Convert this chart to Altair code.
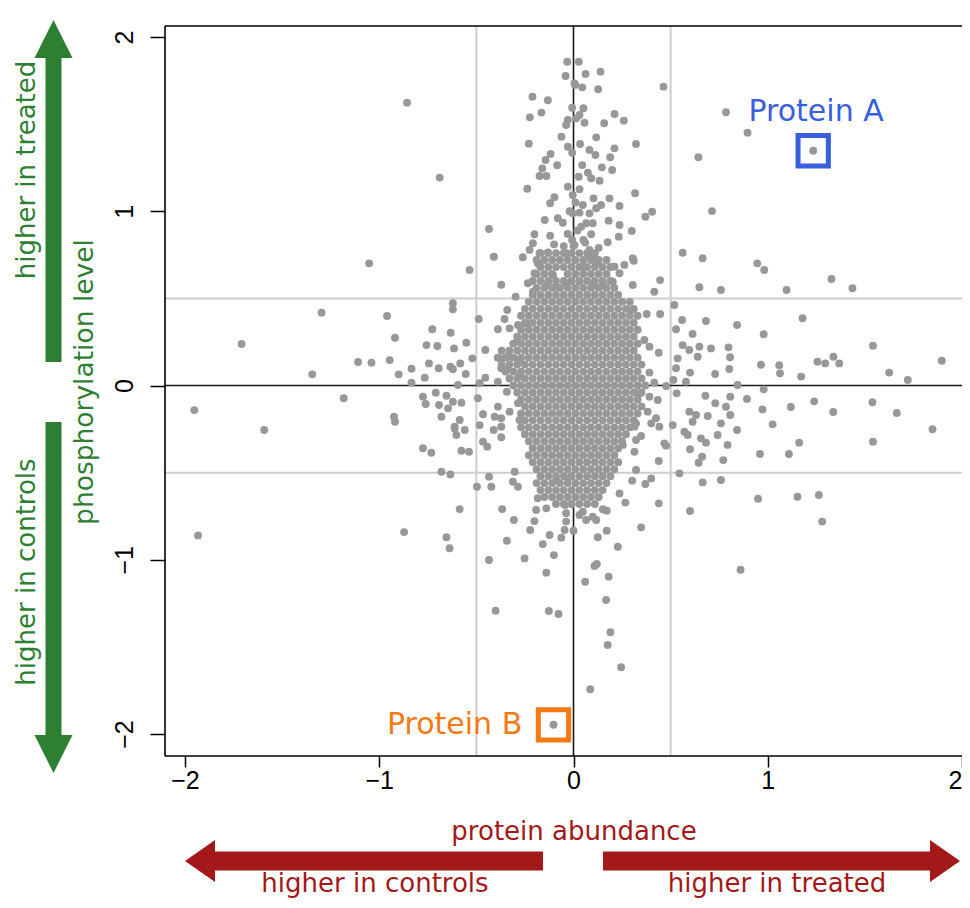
import altair as alt
import pandas as pd

# ---- scattered (individually readable) points: protein abundance (x), phosphorylation level (y)
pts_x = [
    -0.857, -0.689, -0.032, -0.041, 0.009, -0.211, -0.132, -0.165, -0.225, -0.007,
    -0.029, -0.038, 0.014, -0.062, -0.230, -0.029, -0.007, -0.118, -0.144, -0.084,
    -0.161, -0.175, -0.140, -0.238, -0.029, -0.004, -0.098, -0.120, -0.148, -0.081,
    -0.055, -0.004, -0.435, -0.201, -0.209, -0.226, -0.175, -0.132, -0.038, -0.007,
    -0.410, -0.261,
    0.027, 0.062, 0.139, 0.005, 0.045, 0.127, 0.463, 0.051, 0.031, 0.211,
    0.259, 0.158, 0.057, 0.785, 0.896, 0.117, 0.034, 0.322, 0.211, 0.082,
    0.113, 0.189, 0.643, 0.045, 0.146, 0.199, 0.074, 0.027, 0.091, 0.134,
    0.031, 0.317, 0.103, 0.185, 0.142, 0.237, 0.048, 0.117, 0.031, 0.082,
    0.405, 0.370, 0.713, 0.181, 0.237, 0.065, 0.099, 0.040, 0.300, 0.091,
    0.233, 0.176, 0.051, 0.005, 0.082, 0.108, 0.562, 0.665, 0.305,
    -0.535, -0.372, -0.235, -0.201, -0.184, -0.132, -0.089, -0.038, -0.106, -0.209,
    -0.298, -0.621, -0.621, -0.341, -0.355, -0.488, -0.727, -0.632, -0.389, -0.329,
    -0.286, -0.243, -0.289, -0.757, -0.701, -0.615, -0.552, -0.454, -0.521, -0.744,
    -0.694, -0.634, -0.583, -0.621, -0.555, -0.766, -0.595, -0.454, -0.483, -0.380,
    -0.338, -0.372, -0.343, -0.389, -0.343, -0.278, -0.278, -0.775, -0.709, -0.654,
    -0.761, -0.692, -0.621, -0.577, -0.646, -0.492, -0.680, -0.586, -0.466, -0.389,
    -0.329, -0.406, -0.372, -0.278, -0.286, -0.612, -0.483,
    0.648, 0.759, 0.446, 0.416, 0.310, 0.262, 0.211, 0.125, 0.051, 0.082,
    0.237, 0.305, 0.202, 0.151, 0.099, 0.031, 0.519, 0.377, 0.446, 0.297,
    0.559, 0.682, 0.528, 0.613, 0.365, 0.391, 0.439, 0.562, 0.596, 0.648,
    0.708, 0.798, 0.639, 0.536, 0.528, 0.600, 0.729, 0.391, 0.416, 0.477,
    0.514, 0.579, 0.531, 0.679, 0.730, 0.785, 0.596, 0.631, 0.691, 0.759,
    0.391, 0.434, 0.382, 0.425, 0.400, 0.511, 0.339, 0.322, 0.442,
    -0.775, -0.732, -0.612, -0.603, -0.560, -0.577, -0.538, -0.466, -0.444, -0.411,
    -0.372, -0.372, -0.680, -0.634, -0.435, -0.497, -0.423, -0.303, -0.312, -0.286,
    -0.586, -0.367, -0.307, -0.201, -0.223, -0.654, -0.638, -0.343, -0.158, -0.123,
    -0.063, -0.046, 0.000, -0.435, -0.252, -0.101, -0.140, -0.038, -0.038, -0.043,
    -0.192, -0.140, -0.089, -0.029, -0.184,
    0.314, 0.571, 0.588, 0.613, 0.656, 0.682, 0.742, 0.793, 0.468, 0.477,
    0.600, 0.662, 0.644, 0.771, 0.439, 0.322, 0.348, 0.314, 0.254, 0.545,
    0.665, 0.759, 0.400, 0.370, 0.302, 0.322, 0.237, 0.267, 0.439, 0.600,
    0.348, 0.171, 0.151, 0.117, 0.065, 0.031, 0.099, 0.048, 0.171, 0.125,
    0.228, 0.108, 0.120, 0.181, 0.060, 0.168,
    -0.401, -0.127, -0.077, 0.190, 0.176, 0.245, 0.086,
    -1.052, -1.297, -0.960, -1.709, -0.919, -1.109, -1.040, -0.946, -0.834, -0.900,
    -0.834, -1.345, -1.183, -1.952, -1.592, -0.924, -0.919, -1.933, -0.872,
    0.946, 0.982, 1.328, 1.436, 1.097, 0.842, 1.179, 0.979, 0.806, 1.542,
    1.896, 0.965, 1.059, 1.063, 1.256, 1.296, 1.338, 1.368, 1.625, 1.721,
    0.802, 1.172, 0.845, 0.979, 0.807, 0.893, 1.239, 1.539, 0.973, 1.119,
    1.337, 1.664, 0.807, 0.842, 1.025, 1.848, 1.162, 1.542, 0.960, 1.109,
    0.950, 1.153, 1.263, 1.280, 0.860,
    0.000, -0.030, 0.020, -0.020, 0.010, -0.050, 0.060, -0.100, 0.130, -0.120,
]
pts_y = [
    1.623, 1.193, 1.858, 1.776, 1.725, 1.657, 1.637, 1.566, 1.539, 1.594,
    1.524, 1.495, 1.533, 1.428, 1.388, 1.370, 1.336, 1.329, 1.294, 1.264,
    1.246, 1.202, 1.202, 1.129, 1.141, 1.093, 1.080, 1.046, 0.950, 0.960,
    0.934, 0.988, 0.898, 0.868, 0.816, 0.778, 0.759, 0.764, 0.759, 0.835,
    0.739, 0.736,
    1.858, 1.788, 1.801, 1.734, 1.711, 1.700, 1.715, 1.591, 1.552, 1.558,
    1.520, 1.505, 1.508, 1.568, 1.451, 1.424, 1.386, 1.386, 1.361, 1.352,
    1.323, 1.310, 1.310, 1.265, 1.252, 1.237, 1.221, 1.198, 1.189, 1.175,
    1.126, 1.103, 1.074, 1.074, 1.036, 1.030, 1.036, 1.017, 0.992, 0.988,
    0.997, 0.969, 1.001, 0.946, 0.921, 0.931, 0.931, 0.911, 0.887, 0.868,
    0.854, 0.822, 0.835, 0.806, 0.778, 0.739, 0.762, 0.730, 0.730,
    0.663, 0.578, 0.587, 0.644, 0.701, 0.587, 0.567, 0.587, 0.634, 0.538,
    0.510, 0.472, 0.437, 0.433, 0.382, 0.382, 0.323, 0.303, 0.323, 0.328,
    0.347, 0.357, 0.255, 0.232, 0.227, 0.213, 0.246, 0.204, 0.156, 0.127,
    0.099, 0.108, 0.127, 0.093, 0.066, 0.045, 0.003, 0.045, 0.013, 0.156,
    0.165, 0.099, 0.093, 0.022, -0.036, 0.146, 0.051, -0.064, -0.041, -0.059,
    -0.106, -0.112, -0.093, -0.099, -0.131, -0.073, -0.179, -0.198, -0.165, -0.122,
    -0.150, -0.179, -0.188, -0.198, -0.102, -0.236, -0.227,
    0.564, 0.548, 0.605, 0.538, 0.716, 0.692, 0.682, 0.710, 0.682, 0.749,
    0.644, 0.577, 0.596, 0.577, 0.577, 0.596, 0.462, 0.410, 0.410, 0.433,
    0.376, 0.370, 0.323, 0.296, 0.261, 0.223, 0.188, 0.232, 0.204, 0.223,
    0.213, 0.219, 0.165, 0.156, 0.099, 0.074, 0.066, 0.074, 0.016, -0.003,
    0.032, 0.022, -0.045, -0.059, -0.102, -0.122, -0.150, -0.169, -0.175, -0.217,
    -0.064, -0.083, -0.150, -0.188, -0.217, -0.227, -0.045, -0.217, -0.236,
    -0.360, -0.386, -0.246, -0.284, -0.255, -0.374, -0.380, -0.323, -0.351, -0.255,
    -0.236, -0.297, -0.495, -0.510, -0.523, -0.581, -0.581, -0.495, -0.552, -0.581,
    -0.709, -0.709, -0.772, -0.778, -0.829, -0.871, -0.934, -0.891, -0.910, -0.858,
    -0.873, -0.829, -0.833, -1.001, -0.992, -0.973, -1.074, -0.781, -0.733, -0.686,
    -0.714, -0.705, -0.542, -0.533, -0.647,
    -0.236, -0.265, -0.284, -0.208, -0.303, -0.328, -0.284, -0.341, -0.332, -0.345,
    -0.366, -0.409, -0.443, -0.428, -0.433, -0.313, -0.290, -0.380, -0.341, -0.504,
    -0.556, -0.542, -0.533, -0.565, -0.546, -0.485, -0.619, -0.672, -0.676, -0.720,
    -0.814, -0.718, -0.710, -0.772, -0.772, -0.743, -0.753, -0.724, -0.833, -0.871,
    -0.925, -1.036, -1.024, -1.097, -1.126, -1.231,
    -1.292, -1.294, -1.311, -1.416, -1.489, -1.617, -1.743,
    0.701, 0.418, 0.399, 0.238, 0.274, 0.135, 0.131, 0.146, 0.096, 0.064,
    0.016, 0.064, -0.073, -0.141, -0.255, -0.179, -0.208, -0.860, -0.841,
    0.701, 0.663, 0.611, 0.558, 0.548, 0.347, 0.386, 0.294, 0.162, 0.228,
    0.142, 0.119, 0.116, 0.070, 0.137, 0.127, 0.165, 0.127, 0.074, 0.032,
    0.095, 0.051, 0.003, -0.022, -0.064, -0.077, -0.091, -0.096, -0.137, -0.123,
    -0.152, -0.158, -0.169, -0.255, -0.223, -0.251, -0.328, -0.323, -0.393, -0.393,
    -0.650, -0.638, -0.628, -0.781, -1.057,
    0.800, 0.870, 0.890, 1.000, 1.050, 0.800, 0.820, 0.810, 0.790, 0.860,
]

# ---- the dense central cloud, read row by row (phosphorylation level -> abundances in that row)
cloud_y = [0.76, 0.72, 0.68, 0.64, 0.60, 0.56, 0.52, 0.48, 0.44, 0.40, 0.36, 0.32, 0.28,
           0.24, 0.20, 0.16, 0.12, 0.08, 0.04, 0.00, -0.04, -0.08, -0.12, -0.16, -0.20,
           -0.24, -0.28, -0.32, -0.36, -0.40, -0.44, -0.48, -0.52, -0.56, -0.60, -0.64, -0.68]
cloud_x = [
    [-0.17, -0.13, -0.09, -0.05, -0.01, 0.03, 0.07, 0.11],
    [-0.19, -0.15, -0.11, -0.07, -0.03, 0.01, 0.05, 0.09, 0.13, 0.17],
    [-0.17, -0.13, -0.09, -0.05, -0.01, 0.03, 0.07, 0.11, 0.15, 0.19],
    [-0.19, -0.15, -0.11, -0.03, 0.01, 0.05, 0.09, 0.13, 0.17],
    [-0.21, -0.17, -0.13, -0.09, -0.05, -0.01, 0.03, 0.07, 0.11, 0.15, 0.19],
    [-0.19, -0.15, -0.11, -0.07, -0.03, 0.01, 0.05, 0.09, 0.13, 0.17, 0.21],
    [-0.21, -0.17, -0.13, -0.09, -0.05, -0.01, 0.03, 0.07, 0.11, 0.15, 0.19, 0.23],
    [-0.23, -0.19, -0.15, -0.11, -0.07, -0.03, 0.01, 0.05, 0.09, 0.13, 0.17, 0.21, 0.25, 0.29],
    [-0.25, -0.21, -0.17, -0.13, -0.09, -0.05, -0.01, 0.03, 0.07, 0.11, 0.15, 0.19, 0.23, 0.27, 0.31],
    [-0.27, -0.23, -0.19, -0.15, -0.11, -0.07, -0.03, 0.01, 0.05, 0.09, 0.13, 0.17, 0.21, 0.25, 0.29, 0.33],
    [-0.25, -0.21, -0.17, -0.13, -0.09, -0.05, -0.01, 0.03, 0.07, 0.11, 0.15, 0.19, 0.23, 0.27, 0.31],
    [-0.27, -0.23, -0.19, -0.15, -0.11, -0.07, -0.03, 0.01, 0.05, 0.09, 0.13, 0.17, 0.21, 0.25, 0.29, 0.33],
    [-0.29, -0.25, -0.21, -0.17, -0.13, -0.09, -0.05, -0.01, 0.03, 0.07, 0.11, 0.15, 0.19, 0.23, 0.27, 0.31],
    [-0.31, -0.27, -0.23, -0.19, -0.15, -0.11, -0.07, -0.03, 0.01, 0.05, 0.09, 0.13, 0.17, 0.21, 0.25, 0.29, 0.33],
    [-0.37, -0.33, -0.29, -0.25, -0.21, -0.17, -0.13, -0.09, -0.05, -0.01, 0.03, 0.07, 0.11, 0.15, 0.19, 0.23, 0.27, 0.31],
    [-0.39, -0.35, -0.31, -0.27, -0.23, -0.19, -0.15, -0.11, -0.07, -0.03, 0.01, 0.05, 0.09, 0.13, 0.17, 0.21, 0.25, 0.29, 0.33],
    [-0.37, -0.33, -0.29, -0.25, -0.21, -0.17, -0.13, -0.09, -0.05, -0.01, 0.03, 0.07, 0.11, 0.15, 0.19, 0.23, 0.27, 0.31, 0.35],
    [-0.35, -0.31, -0.27, -0.23, -0.19, -0.15, -0.11, -0.07, -0.03, 0.01, 0.05, 0.09, 0.13, 0.17, 0.21, 0.25, 0.29, 0.33],
    [-0.33, -0.29, -0.25, -0.21, -0.17, -0.13, -0.09, -0.05, -0.01, 0.03, 0.07, 0.11, 0.15, 0.19, 0.23, 0.27, 0.31, 0.35],
    [-0.31, -0.27, -0.23, -0.19, -0.15, -0.11, -0.07, -0.03, 0.01, 0.05, 0.09, 0.13, 0.17, 0.21, 0.25, 0.29, 0.33, 0.37],
    [-0.29, -0.25, -0.21, -0.17, -0.13, -0.09, -0.05, -0.01, 0.03, 0.07, 0.11, 0.15, 0.19, 0.23, 0.27, 0.31, 0.35],
    [-0.27, -0.23, -0.19, -0.15, -0.11, -0.07, -0.03, 0.01, 0.05, 0.09, 0.13, 0.17, 0.21, 0.25, 0.29, 0.33],
    [-0.25, -0.21, -0.17, -0.13, -0.09, -0.05, -0.01, 0.03, 0.07, 0.11, 0.15, 0.19, 0.23, 0.27, 0.31, 0.35],
    [-0.27, -0.23, -0.19, -0.15, -0.11, -0.07, -0.03, 0.01, 0.05, 0.09, 0.13, 0.17, 0.21, 0.25, 0.29, 0.33],
    [-0.25, -0.21, -0.17, -0.13, -0.09, -0.05, -0.01, 0.03, 0.07, 0.11, 0.15, 0.19, 0.23, 0.27, 0.31],
    [-0.27, -0.23, -0.19, -0.15, -0.11, -0.07, -0.03, 0.01, 0.05, 0.09, 0.13, 0.17, 0.21, 0.25, 0.29],
    [-0.25, -0.21, -0.17, -0.13, -0.09, -0.05, -0.01, 0.03, 0.07, 0.11, 0.15, 0.19, 0.23, 0.27],
    [-0.23, -0.19, -0.15, -0.11, -0.07, -0.03, 0.01, 0.05, 0.09, 0.13, 0.17, 0.21, 0.25],
    [-0.21, -0.17, -0.13, -0.09, -0.05, -0.01, 0.03, 0.07, 0.11, 0.15, 0.19, 0.23],
    [-0.23, -0.19, -0.15, -0.11, -0.07, -0.03, 0.01, 0.05, 0.09, 0.13, 0.17, 0.21],
    [-0.21, -0.17, -0.13, -0.09, -0.05, -0.01, 0.03, 0.07, 0.11, 0.15, 0.19, 0.23],
    [-0.19, -0.15, -0.11, -0.07, -0.03, 0.01, 0.05, 0.09, 0.13, 0.17, 0.21],
    [-0.17, -0.13, -0.09, -0.05, -0.01, 0.03, 0.07, 0.11, 0.15, 0.19],
    [-0.19, -0.15, -0.11, -0.07, -0.03, 0.01, 0.05, 0.09, 0.13, 0.17],
    [-0.17, -0.13, -0.09, -0.05, -0.01, 0.03, 0.07, 0.11, 0.15],
    [-0.15, -0.11, -0.07, -0.03, 0.01, 0.05, 0.09, 0.13],
    [-0.09, -0.05, -0.01, 0.03, 0.07, 0.11],
]

# ---- highlighted proteins
highlight_name = ["Protein A", "Protein B"]
highlight_x = [1.234, -0.103]
highlight_y = [1.347, -1.947]
highlight_color = ["#3a5fdc", "#f57a14"]
label_x = [1.249, -0.264]
label_y = [1.570, -1.948]

x_ticks = [-2, -1, 0, 1, 2]
y_ticks = [-2, -1, 0, 1, 2]
threshold_lines = [-0.5, 0.5]

# ---------------------------------------------------------------------------
all_x, all_y = list(pts_x), list(pts_y)
for yy, row in zip(cloud_y, cloud_x):
    for xx in row:
        all_x.append(xx)
        all_y.append(yy)
all_x += highlight_x
all_y += highlight_y
points = pd.DataFrame({"x": all_x, "y": all_y})

W, H = 797, 730
xs = alt.Scale(domain=[-2.103, 2.0], nice=False, zero=False)
ys = alt.Scale(domain=[-2.126, 2.063], nice=False, zero=False)

xaxis = alt.Axis(values=x_ticks, format="d", title=None, grid=False, domain=False,
                 tickSize=11, tickColor="black", tickWidth=1.5, labelFontSize=25,
                 labelFont="Liberation Sans", labelColor="black", labelPadding=1,
                 labelOverlap=False, labelBound=False, labelFlush=True)
yaxis = alt.Axis(values=y_ticks, format="d", title=None, grid=False, domain=False,
                 tickSize=15, tickColor="black", tickWidth=1.5, labelFontSize=25,
                 labelFont="Liberation Sans", labelColor="black", labelAngle=270,
                 labelAlign="center", labelBaseline="bottom", labelPadding=13,
                 labelOverlap=False, labelFlush=False)

GREEN = "#2f7f33"
RED = "#a31818"
GREY_PT = "#989898"
TXT_FONT = "DejaVu Sans"

thr = pd.DataFrame({"v": threshold_lines})
vgrid = alt.Chart(thr).mark_rule(color="#cdcdcd", strokeWidth=2).encode(
    x=alt.X("v:Q", scale=xs, axis=xaxis))
hgrid = alt.Chart(thr).mark_rule(color="#cdcdcd", strokeWidth=2).encode(
    y=alt.Y("v:Q", scale=ys, axis=yaxis))
zero = pd.DataFrame({"v": [0]})
vzero = alt.Chart(zero).mark_rule(color="#1a1a1a", strokeWidth=1.6).encode(
    x=alt.X("v:Q", scale=xs, axis=xaxis))
hzero = alt.Chart(zero).mark_rule(color="#1a1a1a", strokeWidth=1.6).encode(
    y=alt.Y("v:Q", scale=ys, axis=yaxis))

dots = alt.Chart(points).mark_circle(size=62, color=GREY_PT, opacity=1).encode(
    x=alt.X("x:Q", scale=xs, axis=xaxis),
    y=alt.Y("y:Q", scale=ys, axis=yaxis),
)

hl = pd.DataFrame({"name": highlight_name, "x": highlight_x, "y": highlight_y,
                   "lx": label_x, "ly": label_y, "c": highlight_color})
boxes = alt.Chart(hl).mark_square(filled=False, size=920, strokeWidth=5, opacity=1).encode(
    x=alt.X("x:Q", scale=xs, axis=xaxis), y=alt.Y("y:Q", scale=ys, axis=yaxis),
    color=alt.Color("c:N", scale=None))
label_a = alt.Chart(hl.iloc[[0]]).mark_text(
    font=TXT_FONT, fontSize=30, align="center", baseline="middle").encode(
    x=alt.X("lx:Q", scale=xs, axis=xaxis), y=alt.Y("ly:Q", scale=ys, axis=yaxis),
    text="name:N", color=alt.Color("c:N", scale=None))
label_b = alt.Chart(hl.iloc[[1]]).mark_text(
    font=TXT_FONT, fontSize=30, align="right", baseline="middle").encode(
    x=alt.X("lx:Q", scale=xs, axis=xaxis), y=alt.Y("ly:Q", scale=ys, axis=yaxis),
    text="name:N", color=alt.Color("c:N", scale=None))

# plot frame: left, top and bottom sides (the right side lies past the picture's edge)
frame_df = pd.DataFrame({"a": [0]})
frame_left = alt.Chart(frame_df).mark_rule(color="black", strokeWidth=1.6).encode(
    x=alt.value(0), y=alt.value(0), y2=alt.value(H))
frame_top = alt.Chart(frame_df).mark_rule(color="black", strokeWidth=1.6).encode(
    x=alt.value(0), x2=alt.value(W + 10), y=alt.value(0))
frame_bottom = alt.Chart(frame_df).mark_rule(color="black", strokeWidth=1.6).encode(
    x=alt.value(0), x2=alt.value(W + 10), y=alt.value(H))


def note(text, px, py, color, angle=0, size=26):
    return alt.Chart(pd.DataFrame({"t": [text]})).mark_text(
        font=TXT_FONT, fontSize=size, color=color, angle=angle,
        align="center", baseline="middle").encode(
        text="t:N", x=alt.value(px), y=alt.value(py))


def arrow(path, px, py, color):
    return alt.Chart(pd.DataFrame({"a": [0]})).mark_point(
        shape=path, size=400, filled=True, color=color, opacity=1, strokeWidth=0).encode(
        x=alt.value(px), y=alt.value(py))


UP = "M0,-17.1L1.9,-13.3L0.8,-13.3L0.8,17.1L-0.8,17.1L-0.8,-13.3L-1.9,-13.3Z"
DOWN = "M0,17.55L1.9,13.75L0.8,13.75L0.8,-17.55L-0.8,-17.55L-0.8,13.75L-1.9,13.75Z"
LEFT = "M-17.9,0L-14.9,-2.1L-14.9,-0.95L17.9,-0.95L17.9,0.95L-14.9,0.95L-14.9,2.1Z"
RIGHT = "M17.85,0L14.85,-2.1L14.85,-0.95L-17.85,-0.95L-17.85,0.95L14.85,0.95L14.85,2.1Z"

annotations = [
    arrow(UP, -111.5, 165, GREEN),
    arrow(DOWN, -111.5, 571.5, GREEN),
    arrow(LEFT, 199, 835, RED),
    arrow(RIGHT, 616.5, 835, RED),
    note("higher in treated", -138, 144, GREEN, angle=270, size=26),
    note("higher in controls", -138, 546, GREEN, angle=270, size=26),
    note("phosphorylation level", -80, 356, GREEN, angle=270, size=26.5),
    note("protein abundance", 409, 806, RED),
    note("higher in controls", 210, 858, RED),
    note("higher in treated", 612, 858, RED),
]

chart = alt.layer(vgrid, hgrid, vzero, hzero, dots, boxes, label_a, label_b,
                  frame_left, frame_top, frame_bottom, *annotations).properties(
    width=W, height=H,
    autosize=alt.AutoSizeParams(type="none"),
    padding={"left": 157, "top": 18, "right": 0, "bottom": 144},
    background="white",
).configure_view(strokeWidth=0)

chart.save("out.html", embed_options={"renderer": "svg", "actions": False})
